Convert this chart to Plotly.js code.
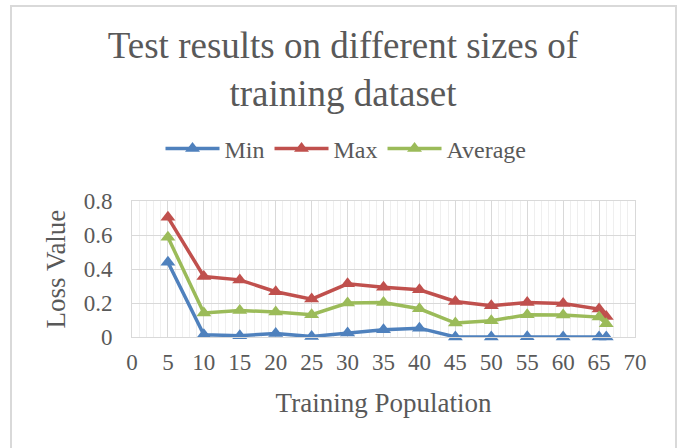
<!DOCTYPE html>
<html>
<head>
<meta charset="utf-8">
<script src="https://cdn.plot.ly/plotly-3.0.1.min.js"></script>
<style>html,body{margin:0;padding:0;background:#fff;}#chart{width:686px;height:448px;}</style>
</head>
<body>
<div id="chart"></div>
<script>
const population = [5, 10, 15, 20, 25, 30, 35, 40, 45, 50, 55, 60, 65, 66];
const minLoss = [0.44, 0.013, 0.008, 0.02, 0.003, 0.023, 0.043, 0.052, 0, 0, 0.002, 0, 0, 0];
const maxLoss = [0.704, 0.356, 0.336, 0.266, 0.223, 0.313, 0.293, 0.278, 0.209, 0.184, 0.203, 0.197, 0.164, 0.121];
const avgLoss = [0.587, 0.141, 0.156, 0.147, 0.131, 0.2, 0.203, 0.166, 0.082, 0.096, 0.131, 0.129, 0.117, 0.078];
const seriesNames = ["Min", "Max", "Average"];

const colors = ["#4F81BD", "#C0504D", "#9BBB59"];
const font = "Liberation Serif, Times New Roman, serif";
const textColor = "#595959";

const traces = [minLoss, maxLoss, avgLoss].map((ys, i) => ({
  x: population, y: ys, name: seriesNames[i], type: "scatter", mode: "lines+markers",
  line: {color: colors[i], width: 3.5},
  marker: {symbol: "triangle-up", size: 13, color: colors[i]},
  cliponaxis: false
}));

const layout = {
  width: 686, height: 448,
  margin: {l: 132, r: 51, t: 201, b: 111, autoexpand: false},
  paper_bgcolor: "#fff", plot_bgcolor: "#fff",
  font: {family: font, color: textColor, size: 23},
  title: {text: "Test results on different sizes of<br>training dataset", font: {family: font, size: 37, color: textColor},
          x: 0.5, xanchor: "center", yref: "container", y: 1 - 58 / 448, yanchor: "top"},
  showlegend: true,
  legend: {orientation: "h", x: (346 - 132) / 503, xanchor: "center", yref: "paper", y: (337 - 149) / 136, yanchor: "middle",
           font: {family: font, size: 24, color: textColor}, traceorder: "normal", itemwidth: 54},
  xaxis: {range: [0, 70], dtick: 5, tick0: 0, showgrid: true, gridcolor: "#d9d9d9", gridwidth: 1,
          minor: {dtick: 1, showgrid: true, gridcolor: "#efefef", gridwidth: 1},
          showline: true, linecolor: "#d9d9d9", mirror: true, zeroline: false, ticks: "",
          tickfont: {family: font, size: 23, color: textColor}, ticklabelstandoff: 4,
          title: {text: "Training Population", font: {family: font, size: 27, color: textColor}, standoff: 19}},
  yaxis: {range: [0, 0.8], dtick: 0.2, showgrid: true, gridcolor: "#d9d9d9", gridwidth: 1,
          showline: true, linecolor: "#d9d9d9", mirror: true, zeroline: false, ticks: "",
          tickfont: {family: font, size: 23, color: textColor}, ticklabelstandoff: 14,
          title: {text: "Loss Value", font: {family: font, size: 27, color: textColor}, standoff: 10}},
  shapes: [{type: "rect", xref: "paper", yref: "paper",
            x0: (11 - 132) / 503, x1: (676 - 132) / 503,
            y0: (337 - 460) / 136, y1: (337 - 6) / 136,
            line: {color: "#d9d9d9", width: 2}, fillcolor: "rgba(0,0,0,0)", layer: "below"}]
};

Plotly.newPlot("chart", traces, layout, {displayModeBar: false, staticPlot: true});
</script>
</body>
</html>
